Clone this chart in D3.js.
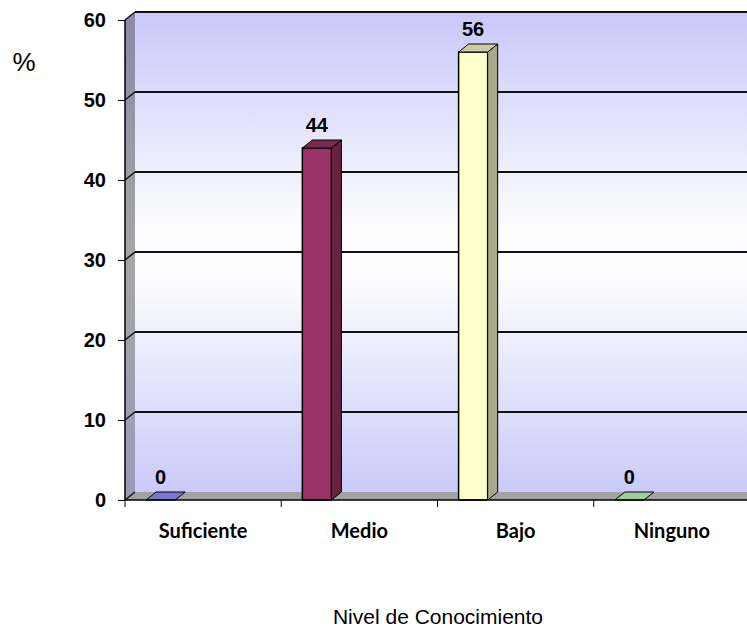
<!DOCTYPE html>
<html>
<head>
<meta charset="utf-8">
<script src="https://cdn.jsdelivr.net/npm/d3@7"></script>
<style>
  html, body { margin: 0; padding: 0; background: #fff; }
  svg { display: block; }
</style>
</head>
<body>
<svg id="chart" width="747" height="631"></svg>
<script>
// Nivel de conocimiento (%)
const categories = ["Suficiente", "Medio", "Bajo", "Ninguno"];
const values = [0, 44, 56, 0];
const yTicks = [0, 10, 20, 30, 40, 50, 60];
const yLabel = "%";
const xLabel = "Nivel de Conocimiento";

const frontColors = ["#7474cc", "#993366", "#ffffcc", "#a0d0a0"];
const sideColors  = ["#4c4c99", "#66223f", "#a8a888", "#70a070"];
const topColors   = ["#7878d0", "#7a2952", "#cccca4", "#a0cca0"];

const svg = d3.select("#chart");

// 3D depth offset of the plot box
const DX = 10, DY = -8;
const left = 125, right = 750;

const x = d3.scaleBand().domain(categories).range([left, right]).paddingInner(0).paddingOuter(0);
const y = d3.scaleLinear().domain([0, 60]).range([500, 20]);

const defs = svg.append("defs");
const wallGrad = defs.append("linearGradient").attr("id", "wallGrad")
  .attr("x1", 0).attr("y1", 0).attr("x2", 0).attr("y2", 1);
wallGrad.append("stop").attr("offset", "0%").attr("stop-color", "#c8c8fa");
wallGrad.append("stop").attr("offset", "45%").attr("stop-color", "#fdfdff");
wallGrad.append("stop").attr("offset", "55%").attr("stop-color", "#fdfdff");
wallGrad.append("stop").attr("offset", "100%").attr("stop-color", "#cacafa");

const sideGrad = defs.append("linearGradient").attr("id", "sideGrad")
  .attr("x1", 0).attr("y1", 0).attr("x2", 0).attr("y2", 1);
sideGrad.append("stop").attr("offset", "0%").attr("stop-color", "#8a8aa8");
sideGrad.append("stop").attr("offset", "50%").attr("stop-color", "#a6a6a6");
sideGrad.append("stop").attr("offset", "100%").attr("stop-color", "#9a9aba");

const y0 = y(0), yTop = y(60);

// back wall
svg.append("rect")
  .attr("x", left + DX).attr("y", yTop + DY)
  .attr("width", right - left).attr("height", y0 - yTop)
  .attr("fill", "url(#wallGrad)");

// left side wall
svg.append("polygon")
  .attr("points", [[left, y0], [left, yTop], [left + DX, yTop + DY], [left + DX, y0 + DY]].join(" "))
  .attr("fill", "url(#sideGrad)");

// floor
svg.append("polygon")
  .attr("points", [[left, y0], [right + DX, y0], [right + DX, y0 + DY], [left + DX, y0 + DY]].join(" "))
  .attr("fill", "#a2a2a2");

// gridlines on the back wall and their diagonals on the side wall
const grid = svg.append("g").attr("stroke", "#111").attr("fill", "none");
yTicks.filter(v => v > 0).forEach(v => {
  grid.append("line")
    .attr("x1", left + DX).attr("x2", right + DX)
    .attr("y1", y(v) + DY).attr("y2", y(v) + DY)
    .attr("stroke-width", 2);
  grid.append("line")
    .attr("x1", left).attr("y1", y(v))
    .attr("x2", left + DX).attr("y2", y(v) + DY)
    .attr("stroke-width", 1.5);
});
// floor back edge diagonal
grid.append("line")
  .attr("x1", left).attr("y1", y0).attr("x2", left + DX).attr("y2", y0 + DY)
  .attr("stroke-width", 1.5);

// bars
const barOffset = x.bandwidth() * 0.135;
const barWidth = x.bandwidth() * 0.186;
const bars = svg.append("g").attr("stroke", "#000").attr("stroke-width", 1).attr("stroke-linejoin", "round");
categories.forEach((c, i) => {
  const v = values[i];
  const x0 = x(c) + barOffset, x1 = x0 + barWidth, yt = y(v);
  if (v > 0) {
    bars.append("rect")
      .attr("x", x0).attr("y", yt).attr("width", barWidth).attr("height", y0 - yt)
      .attr("fill", frontColors[i]).attr("stroke-width", 1.5);
    bars.append("polygon")
      .attr("points", [[x1, yt], [x1 + DX, yt + DY], [x1 + DX, y0 + DY], [x1, y0]].join(" "))
      .attr("fill", sideColors[i]);
  }
  bars.append("polygon")
    .attr("points", [[x0, yt], [x0 + DX, yt + DY], [x1 + DX, yt + DY], [x1, yt]].join(" "))
    .attr("fill", topColors[i]);
});

// front axis lines
svg.append("line").attr("x1", left).attr("x2", left).attr("y1", y0).attr("y2", yTop)
  .attr("stroke", "#000").attr("stroke-width", 1.5);
svg.append("line").attr("x1", left).attr("x2", right + DX).attr("y1", y0).attr("y2", y0)
  .attr("stroke", "#000").attr("stroke-width", 1.5);

// y axis
const yAxis = svg.append("g")
  .attr("transform", `translate(${left},0)`)
  .call(d3.axisLeft(y).tickValues(yTicks).tickSize(7).tickPadding(12).tickFormat(d3.format("d")));
yAxis.select(".domain").remove();
yAxis.selectAll(".tick line").attr("stroke", "#000").attr("stroke-width", 1);
yAxis.selectAll(".tick text")
  .attr("font-family", "Liberation Sans, Arial, sans-serif")
  .attr("font-size", 20).attr("font-weight", "bold").attr("fill", "#000");

// x axis ticks at category boundaries
const bounds = categories.map(c => x(c));
svg.append("g").selectAll("line").data(bounds).join("line")
  .attr("x1", d => d).attr("x2", d => d).attr("y1", y0).attr("y2", y0 + 7)
  .attr("stroke", "#000").attr("stroke-width", 1);

// category labels
svg.append("g").selectAll("text").data(categories).join("text")
  .attr("x", c => x(c) + x.bandwidth() / 2)
  .attr("y", 538)
  .attr("text-anchor", "middle")
  .attr("font-family", "Lato, Carlito, sans-serif")
  .attr("font-size", 20).attr("font-weight", "bold")
  .attr("fill", "#000")
  .text(c => c);

// value labels
svg.append("g").selectAll("text").data(categories).join("text")
  .attr("x", c => x(c) + barOffset + barWidth / 2)
  .attr("y", (c, i) => y(values[i]) - 16)
  .attr("text-anchor", "middle")
  .attr("font-family", "Liberation Sans, Arial, sans-serif")
  .attr("font-size", 20).attr("font-weight", "bold")
  .attr("fill", "#000")
  .text((c, i) => values[i]);

// axis titles
svg.append("text")
  .attr("x", 24).attr("y", 71)
  .attr("text-anchor", "middle")
  .attr("font-family", "Liberation Sans, Arial, sans-serif")
  .attr("font-size", 26)
  .attr("fill", "#000")
  .text(yLabel);

svg.append("text")
  .attr("x", 438).attr("y", 624)
  .attr("text-anchor", "middle")
  .attr("font-family", "Liberation Sans, Arial, sans-serif")
  .attr("font-size", 21)
  .attr("fill", "#000")
  .text(xLabel);
</script>
</body>
</html>
